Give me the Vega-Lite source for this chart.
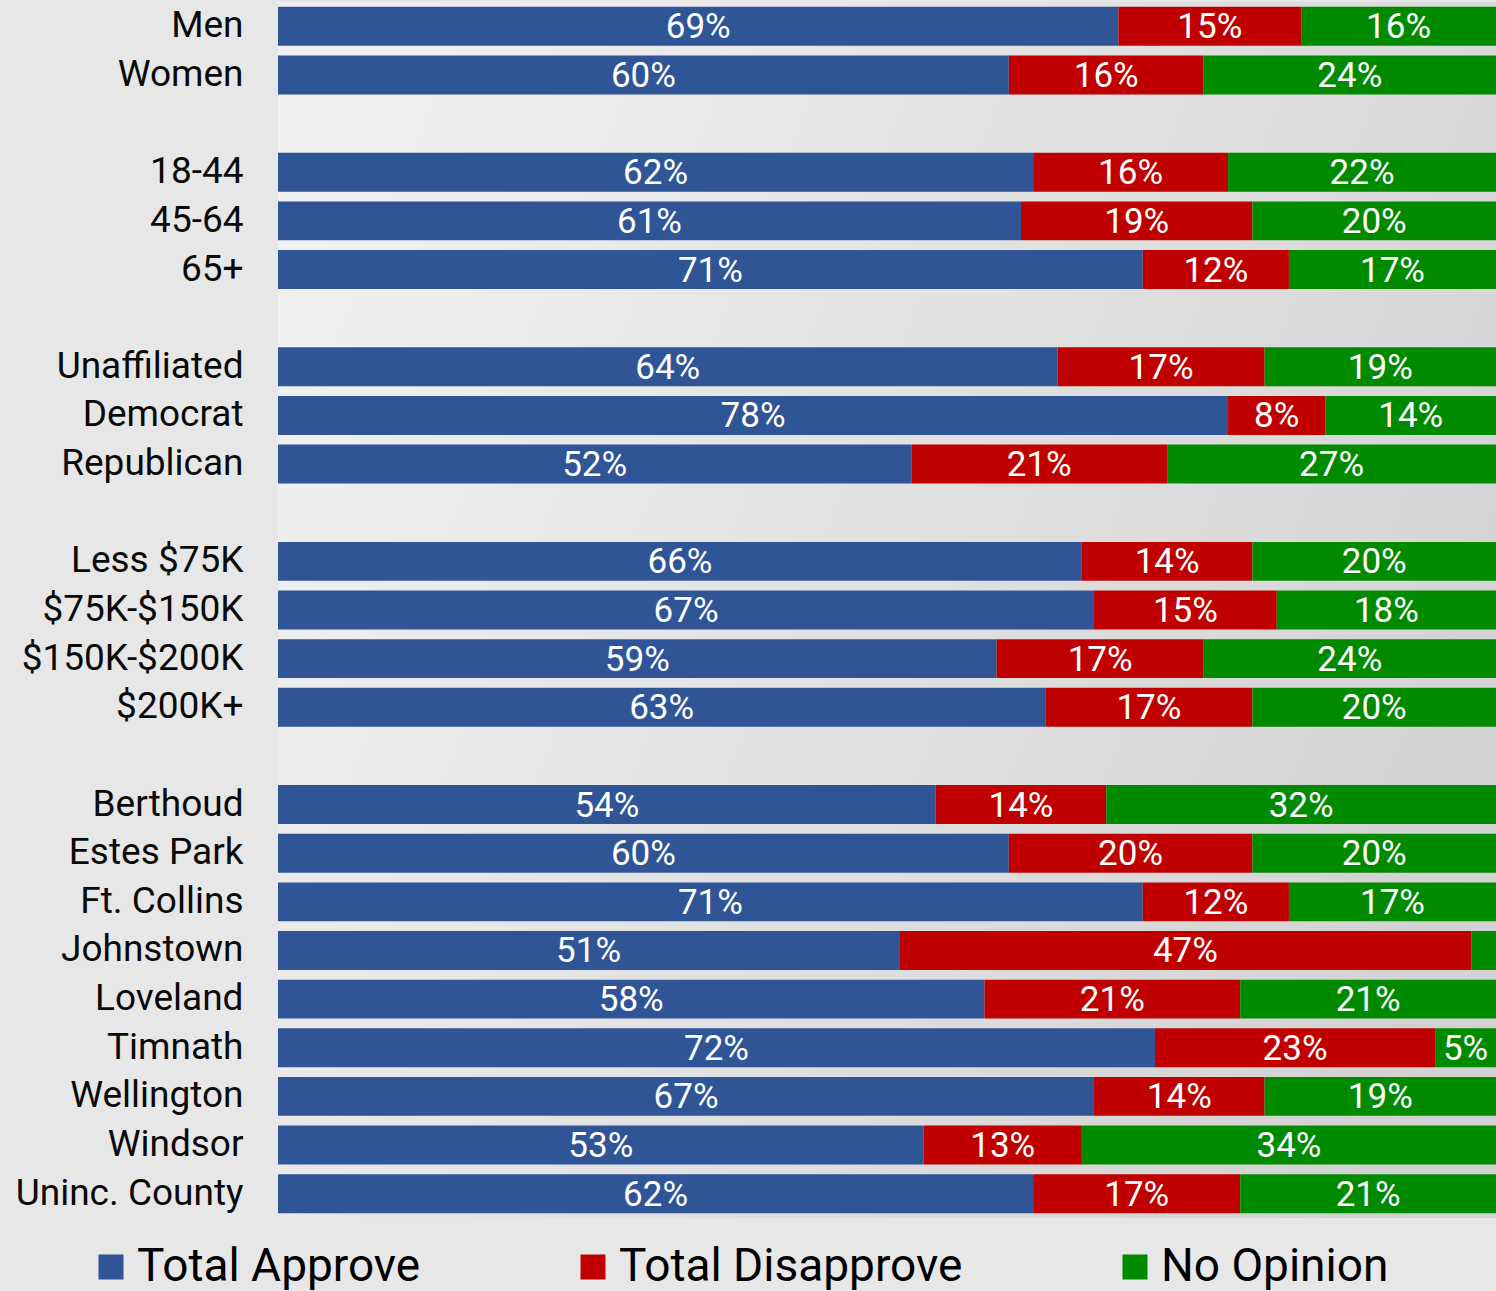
{
  "$schema": "https://vega.github.io/schema/vega-lite/v6.json",
  "width": 1218,
  "height": 1216,
  "autosize": {"type": "none"},
  "padding": {"left": 278, "top": 2, "right": 0, "bottom": 73},
  "background": "#e7e7e7",
  "config": {"view": {"stroke": null}, "font": "Roboto"},
  "datasets": {
    "poll": [
      {"Group": "Men", "Total Approve": 69, "Total Disapprove": 15, "No Opinion": 16},
      {"Group": "Women", "Total Approve": 60, "Total Disapprove": 16, "No Opinion": 24},
      {"Group": "18-44", "Total Approve": 62, "Total Disapprove": 16, "No Opinion": 22},
      {"Group": "45-64", "Total Approve": 61, "Total Disapprove": 19, "No Opinion": 20},
      {"Group": "65+", "Total Approve": 71, "Total Disapprove": 12, "No Opinion": 17},
      {"Group": "Unaffiliated", "Total Approve": 64, "Total Disapprove": 17, "No Opinion": 19},
      {"Group": "Democrat", "Total Approve": 78, "Total Disapprove": 8, "No Opinion": 14},
      {"Group": "Republican", "Total Approve": 52, "Total Disapprove": 21, "No Opinion": 27},
      {"Group": "Less $75K", "Total Approve": 66, "Total Disapprove": 14, "No Opinion": 20},
      {"Group": "$75K-$150K", "Total Approve": 67, "Total Disapprove": 15, "No Opinion": 18},
      {"Group": "$150K-$200K", "Total Approve": 59, "Total Disapprove": 17, "No Opinion": 24},
      {"Group": "$200K+", "Total Approve": 63, "Total Disapprove": 17, "No Opinion": 20},
      {"Group": "Berthoud", "Total Approve": 54, "Total Disapprove": 14, "No Opinion": 32},
      {"Group": "Estes Park", "Total Approve": 60, "Total Disapprove": 20, "No Opinion": 20},
      {"Group": "Ft. Collins", "Total Approve": 71, "Total Disapprove": 12, "No Opinion": 17},
      {"Group": "Johnstown", "Total Approve": 51, "Total Disapprove": 47, "No Opinion": 2},
      {"Group": "Loveland", "Total Approve": 58, "Total Disapprove": 21, "No Opinion": 21},
      {"Group": "Timnath", "Total Approve": 72, "Total Disapprove": 23, "No Opinion": 5},
      {"Group": "Wellington", "Total Approve": 67, "Total Disapprove": 14, "No Opinion": 19},
      {"Group": "Windsor", "Total Approve": 53, "Total Disapprove": 13, "No Opinion": 34},
      {"Group": "Uninc. County", "Total Approve": 62, "Total Disapprove": 17, "No Opinion": 21}
    ],
    "bg": [{}]
  },
  "layer": [
    {
      "data": {"name": "bg"},
      "mark": {
        "type": "rect",
        "color": {
          "gradient": "linear",
          "x1": 0, "y1": 0.3, "x2": 1, "y2": 0.7,
          "stops": [
            {"offset": 0, "color": "#f0f0f0"},
            {"offset": 1, "color": "#d2d2d2"}
          ]
        }
      },
      "encoding": {}
    },
    {
      "data": {"name": "poll"},
      "transform": [
        {"fold": ["Total Approve", "Total Disapprove", "No Opinion"], "as": ["Response", "Pct"]},
        {"calculate": "indexof(['Total Approve','Total Disapprove','No Opinion'], datum.Response)", "as": "ord"},
        {"stack": "Pct", "groupby": ["Group"], "sort": [{"field": "ord", "order": "ascending"}], "as": ["p0", "p1"]},
        {"calculate": "(datum.p0 + datum.p1) / 2", "as": "mid"},
        {"calculate": "datum.Pct + '%'", "as": "lbl"}
      ],
      "encoding": {
        "y": {
          "field": "Group",
          "type": "nominal",
          "scale": {
            "domain": ["Men", "Women", " ", "18-44", "45-64", "65+", "  ", "Unaffiliated", "Democrat", "Republican", "   ", "Less $75K", "$75K-$150K", "$150K-$200K", "$200K+", "    ", "Berthoud", "Estes Park", "Ft. Collins", "Johnstown", "Loveland", "Timnath", "Wellington", "Windsor", "Uninc. County"],
            "paddingInner": 0.2,
            "paddingOuter": 0.1
          },
          "axis": {
            "title": null,
            "domain": false,
            "ticks": false,
            "labelPadding": 35,
            "labelFontSize": 37,
            "labelFont": "Roboto",
            "labelColor": "#0a0a0a",
            "labelLimit": 400
          }
        }
      },
      "layer": [
        {
          "mark": {"type": "bar"},
          "encoding": {
            "x": {"field": "p0", "type": "quantitative", "scale": {"domain": [0, 100], "nice": false}, "axis": null},
            "x2": {"field": "p1"},
            "color": {
              "field": "Response",
              "type": "nominal",
              "scale": {"domain": ["Total Approve", "Total Disapprove", "No Opinion"], "range": ["#2f5597", "#c00000", "#008a00"]},
              "legend": {
                "orient": "none",
                "legendX": -190,
                "legendY": 1242,
                "direction": "horizontal",
                "title": null,
                "symbolType": "square",
                "symbolSize": 625,
                "symbolStrokeWidth": 0,
                "labelFontSize": 46,
                "labelFont": "Roboto",
                "labelColor": "#000000",
                "labelOffset": 3,
                "columnPadding": 149,
                "labelLimit": 600,
                "padding": 0
              }
            }
          }
        },
        {
          "transform": [{"filter": "datum.Pct >= 3"}],
          "mark": {"type": "text", "color": "#ffffff", "fontSize": 35, "font": "Roboto", "baseline": "middle", "align": "center", "dy": 1},
          "encoding": {
            "x": {"field": "mid", "type": "quantitative"},
            "text": {"field": "lbl", "type": "nominal"}
          }
        }
      ]
    }
  ]
}
